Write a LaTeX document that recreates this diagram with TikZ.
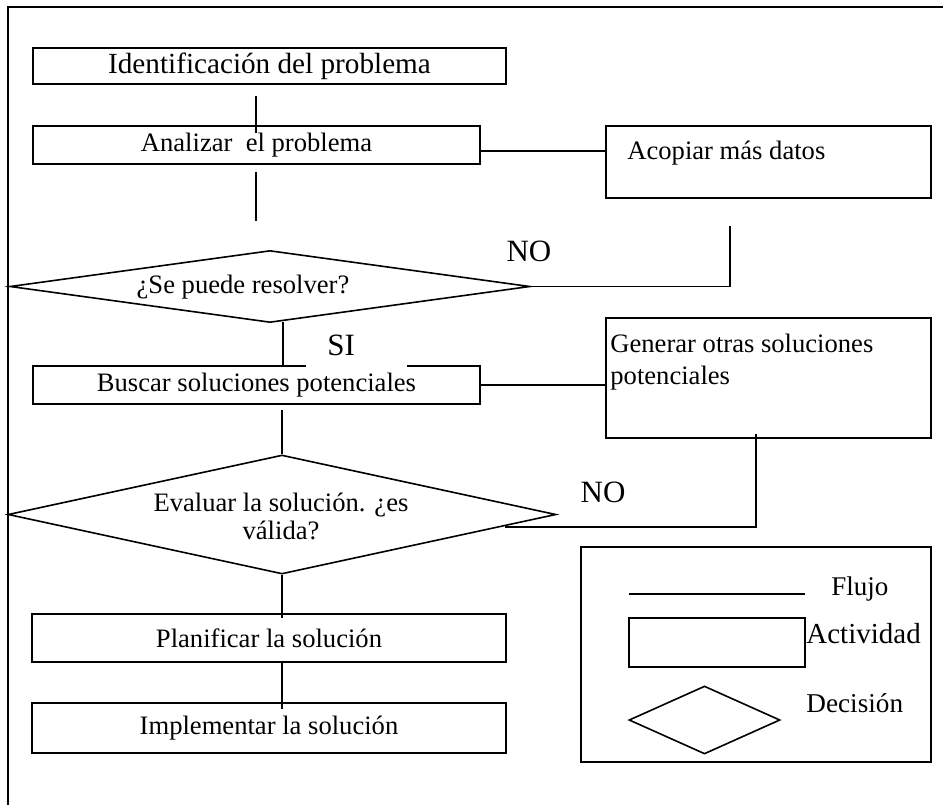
\documentclass[tikz,border=0pt]{standalone}
\usepackage{fontspec}
\setmainfont{Liberation Serif}
\usetikzlibrary{shapes.geometric, calc}

\begin{document}
\begin{tikzpicture}[x=0.5pt, y=-0.5pt,
	box/.style={draw, black, line width=0.8pt, inner sep=0pt},
	decision/.style={diamond, draw, black, line width=0.8pt, inner sep=0pt},
	flow/.style={black, line width=0.7pt},
	txt/.style={inner sep=0pt, font=\fontsize{13.3}{14}\selectfont},
	big/.style={inner sep=0pt, font=\fontsize{15.5}{18}\selectfont}]
		\useasboundingbox (0,0) rectangle (943,804);
		\clip (0,0) rectangle (943,804);
		\draw[black, line width=1pt] (8,830) -- (8,7) -- (970,7);
		%
		%
		\node[box, txt, font=\fontsize{14.6}{16}\selectfont, minimum width=236.5pt, minimum height=18pt] (ident) at (269.5,66) {Identificación del problema};
		\node[box, txt, minimum width=223.5pt, minimum height=19pt] (ana) at (256.5,145) {Analizar~ el problema};
		\node[box, minimum width=162.5pt, minimum height=36pt] (aco) at (768.5,162) {};
		\node[txt, anchor=west] (acotxt) at (627,153) {Acopiar más datos};
		\node[decision, minimum width=260pt, minimum height=36pt] (dec1) at (270,286.5) {};
		\node[txt] (dec1txt) at (243,287) {¿Se puede resolver?};
		\node[box, txt, minimum width=223.5pt, minimum height=19pt] (bus) at (256.5,385) {Buscar soluciones potenciales};
		\node[box, minimum width=162.5pt, minimum height=60pt] (gen) at (768.5,378) {};
		\node[txt, anchor=north west, align=left, font=\fontsize{13.3}{16}\selectfont] (gentxt) at (610,334) {Generar otras soluciones\\potenciales};
		\node[decision, minimum width=274pt, minimum height=59.5pt] (dec2) at (282,514.5) {};
		\node[txt, align=center] (dec2txt) at (281,516) {Evaluar la solución. ¿es\\válida?};
		\node[box, txt, minimum width=237pt, minimum height=24pt] (pla) at (269,638) {Planificar la solución};
		\node[box, txt, minimum width=237pt, minimum height=25pt] (imp) at (269,728) {Implementar la solución};
		%
		% conectores
		\coordinate (a1) at (256,96);
		\coordinate (a2) at (256,133);
		\draw[flow] (a1) -- (a2);
		\coordinate (b1) at (256,172);
		\coordinate (b2) at (256,221);
		\draw[flow] (b1) -- (b2);
		\coordinate (h1) at (0,151);
		\draw[flow] (ana.east |- h1) -- (aco.west |- h1);
		\coordinate (r1) at (730,226);
		\draw[flow] (r1) |- (dec1.east);
		\coordinate (s1) at (283,322);
		\draw[flow] (s1) -- (s1 |- bus.north);
		\draw[flow] (bus.east) -- (bus.east -| gen.west);
		\coordinate (t1) at (282,410);
		\draw[flow] (t1) -- (dec2.north);
		\coordinate (g1) at (756,434);
		\coordinate (g2) at (505,527);
		\draw[flow] (g1) |- (g2);
		\draw[flow] (dec2.south) -- ([yshift=-2.5pt]dec2.south |- pla.north);
		\draw[flow] (dec2.south |- pla.south) -- ([yshift=-3.5pt]dec2.south |- imp.north);
		%
		\node[big, fill=white, anchor=west, text width=50.5pt, align=left, minimum height=23pt] (si) at (306,345) {\hspace*{10.5pt}SI};
		\node[big] (no1) at (529,251) {NO};
		\node[big] (no2) at (603,492) {NO};
		%
		% leyenda
		\node[box, minimum width=175pt, minimum height=107.5pt] (leg) at (756,654.5) {};
		\coordinate (f1) at (629,594);
		\coordinate (f2) at (805,594);
		\draw[flow, line width=0.8pt] (f1) -- (f2);
		\node[txt, anchor=west, font=\fontsize{13.5}{15}\selectfont] (flujo) at (831,589) {Flujo};
		\node[box, minimum width=88pt, minimum height=24.5pt] (legact) at (717,642.5) {};
		\node[txt, anchor=west, font=\fontsize{14.5}{16}\selectfont] (actividad) at (806,634) {Actividad};
		\node[decision, minimum width=75.5pt, minimum height=34pt] (legdec) at (704.5,720) {};
		\node[txt, anchor=west, font=\fontsize{13.6}{15}\selectfont] (decision) at (806,703) {Decisión};
	\end{tikzpicture}
\end{document}
